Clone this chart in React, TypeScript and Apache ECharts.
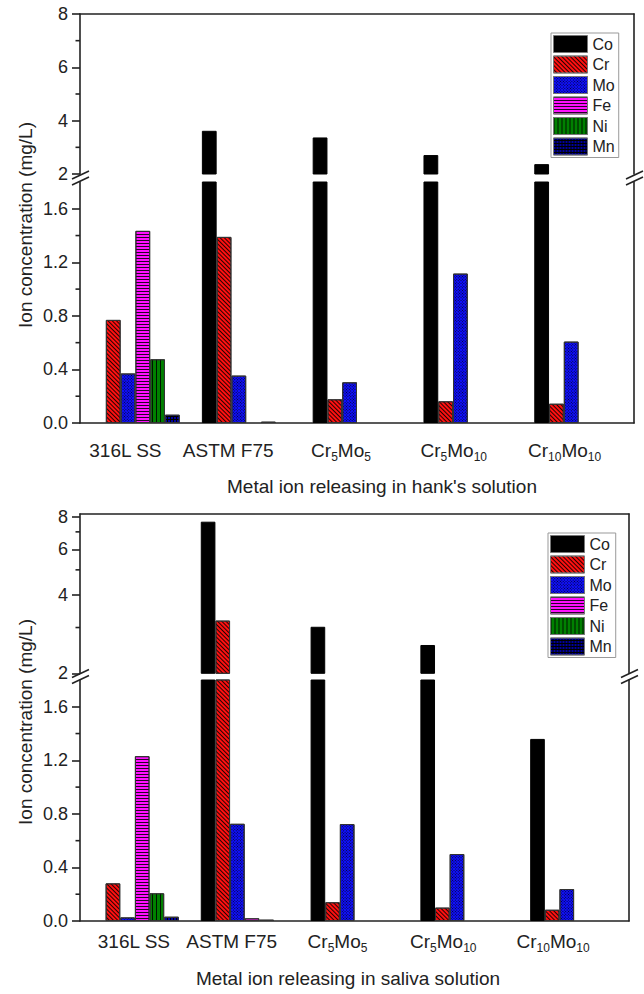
import React, { useEffect, useRef } from 'react';
import * as echarts from 'echarts';

// ---------- data ----------
const categories = ['316L SS', 'ASTM F75', 'Cr5Mo5', 'Cr5Mo10', 'Cr10Mo10'];
const metals = ['Co', 'Cr', 'Mo', 'Fe', 'Ni', 'Mn'];

// Metal ion release in Hank's solution (mg/L)
const hankCo = [0, 3.62, 3.37, 2.71, 2.37];
const hankCr = [0.77, 1.39, 0.177, 0.162, 0.144];
const hankMo = [0.37, 0.354, 0.304, 1.116, 0.608];
const hankFe = [1.435, 0, 0, 0, 0];
const hankNi = [0.476, 0.01, 0, 0, 0];
const hankMn = [0.062, 0, 0, 0, 0];

// Metal ion release in saliva solution (mg/L)
const salivaCo = [0, 7.66, 3.02, 2.57, 1.36];
const salivaCr = [0.281, 3.19, 0.14, 0.1, 0.084];
const salivaMo = [0.027, 0.726, 0.724, 0.5, 0.239];
const salivaFe = [1.231, 0.02, 0, 0, 0];
const salivaNi = [0.207, 0.01, 0, 0, 0];
const salivaMn = [0.032, 0, 0, 0, 0];

// axis ticks
const lowerTicks = [0, 0.4, 0.8, 1.2, 1.6];
const lowerMinor = [0.2, 0.6, 1.0, 1.4];
const hankUpperTicks = [2, 4, 6, 8];
const hankUpperMinor = [3, 5, 7];
const salivaUpperTicks = [2, 4, 6, 8];
const salivaUpperMinor = [3, 5, 7];

// ---------- style ----------
const FONT = '"Liberation Sans", Arial, Helvetica, sans-serif';
const INK = '#222';
const LINE_W = 1.6;
const topLabelShift = [-10, -18, -16, -14, -14];
const bottomLabelShift = [-1, -13, -17, -21, -21];

const metalStyles: Record<string, any> = {
  Co: { color: '#000000', borderColor: '#000000', borderWidth: 1 },
  Cr: {
    color: '#ff1010', borderColor: '#333', borderWidth: 1,
    decal: { symbol: 'rect', symbolSize: 1, color: 'rgba(0,0,0,0.85)', dashArrayX: [1, 0], dashArrayY: [1, 2], rotation: Math.PI / 4 },
  },
  Mo: {
    color: '#1010ff', borderColor: '#333', borderWidth: 1,
    decal: { symbol: 'rect', symbolSize: 1, color: 'rgba(0,0,0,0.8)', dashArrayX: [1, 1], dashArrayY: [1, 1], rotation: Math.PI / 4 },
  },
  Fe: {
    color: '#ff10ff', borderColor: '#333', borderWidth: 1,
    decal: { symbol: 'rect', symbolSize: 1, color: 'rgba(0,0,0,0.85)', dashArrayX: [1, 0], dashArrayY: [1, 2], rotation: 0 },
  },
  Ni: {
    color: '#008000', borderColor: '#333', borderWidth: 1,
    decal: { symbol: 'rect', symbolSize: 1, color: 'rgba(0,0,0,0.85)', dashArrayX: [1, 3], dashArrayY: [1, 0], rotation: 0 },
  },
  Mn: {
    color: '#000000', borderColor: '#333', borderWidth: 1,
    decal: { symbol: 'rect', symbolSize: 1, color: '#0000a0', dashArrayX: [2, 1], dashArrayY: [2, 1], rotation: 0 },
  },
};

function catLabel(shifts: number[], margin: number) {
  const rich: any = {
    n: { fontSize: 19, lineHeight: 22, verticalAlign: 'top', color: INK, fontFamily: FONT },
    s: { fontSize: 12, lineHeight: 12, padding: [16, 0, 0, 0], verticalAlign: 'bottom', color: INK, fontFamily: FONT },
  };
  shifts.forEach((o, i) => {
    rich['g' + i] = { width: Math.abs(o) * 2, fontSize: 19, lineHeight: 22, verticalAlign: 'top' };
  });
  return {
    show: true,
    interval: 0,
    margin,
    rich,
    formatter: (value: string, index: number) => {
      const m = /^Cr(\d+)Mo(\d+)$/.exec(value);
      const body = m ? `{n|Cr}{s|${m[1]}}{n|Mo}{s|${m[2]}}` : `{n|${value}}`;
      return body + (shifts[index] ? `{g${index}| }` : '');
    },
  };
}

const axisLine = { show: true, onZero: false, lineStyle: { color: INK, width: LINE_W } };
const tickLabel = { color: INK, fontSize: 18, fontFamily: FONT, margin: 12 };

function buildOption() {
  const L = (v: number) => Math.log10(v);
  const grids = [
    { left: 80, top: 14, width: 554, height: 160 },
    { left: 80, top: 182, width: 554, height: 241 },
    { left: 80, top: 514, width: 549, height: 159.3 },
    { left: 80, top: 680, width: 549, height: 241 },
  ];

  const xAxis: any[] = [
    { type: 'category', gridIndex: 0, data: categories, position: 'top', axisLine, axisTick: { show: false }, axisLabel: { show: false } },
    { type: 'category', gridIndex: 1, data: categories, position: 'bottom', axisLine, axisTick: { show: false }, axisLabel: catLabel(topLabelShift, 18) },
    { type: 'category', gridIndex: 2, data: categories, position: 'top', axisLine, axisTick: { show: false }, axisLabel: { show: false } },
    { type: 'category', gridIndex: 3, data: categories, position: 'bottom', axisLine, axisTick: { show: false }, axisLabel: catLabel(bottomLabelShift, 11) },
  ];

  const rightAxis = (gridIndex: number, min: number, max: number) => ({
    type: 'value', gridIndex, min, max, position: 'right', axisLine,
    axisTick: { show: false }, axisLabel: { show: false }, splitLine: { show: false },
  });
  const mainAxis = (gridIndex: number, min: number, max: number, ticks: number[], fmt: (v: number) => string) => ({
    type: 'value', gridIndex, min, max, position: 'left', axisLine,
    axisTick: { show: true, length: 8, customValues: ticks, lineStyle: { color: INK, width: LINE_W } },
    axisLabel: { ...tickLabel, customValues: ticks, formatter: fmt },
    splitLine: { show: false },
  });

  const yAxis: any[] = [
    mainAxis(0, 2, 8, hankUpperTicks, (v) => String(v)),
    rightAxis(0, 2, 8),
    mainAxis(1, 0, 1.8, lowerTicks, (v) => v.toFixed(1)),
    rightAxis(1, 0, 1.8),
    mainAxis(2, L(2), L(8.2), salivaUpperTicks.map(L), (v) => String(Math.round(Math.pow(10, v)))),
    rightAxis(2, L(2), L(8.2)),
    mainAxis(3, 0, 1.8, lowerTicks, (v) => v.toFixed(1)),
    rightAxis(3, 0, 1.8),
  ];

  const hank = [hankCo, hankCr, hankMo, hankFe, hankNi, hankMn];
  const saliva = [salivaCo, salivaCr, salivaMo, salivaFe, salivaNi, salivaMn];
  const series: any[] = [];
  const common = { type: 'bar', barGap: '0%', barCategoryGap: '20%', clip: true, silent: true };
  const pos = (v: number) => (v > 0 ? v : null);
  metals.forEach((m, i) => {
    const itemStyle = metalStyles[m];
    series.push({ ...common, name: m, xAxisIndex: 0, yAxisIndex: 0, itemStyle, data: hank[i].map(v => (v >= 2 ? v : null)) });
    series.push({ ...common, name: m, xAxisIndex: 1, yAxisIndex: 2, itemStyle, data: hank[i].map(pos) });
    series.push({ ...common, name: m, xAxisIndex: 2, yAxisIndex: 4, itemStyle, data: saliva[i].map(v => (v >= 2 ? L(v) : null)) });
    series.push({ ...common, name: m, xAxisIndex: 3, yAxisIndex: 6, itemStyle, data: saliva[i].map(pos) });
  });

  // minor ticks on the left axes, positioned through each axis' own scale
  const minorTicks = (xAxisIndex: number, yAxisIndex: number, values: number[]) => ({
    type: 'custom', name: '_minor', xAxisIndex, yAxisIndex, silent: true, clip: false,
    encode: { x: 0, y: 1 },
    data: values.map(v => [0, v]),
    renderItem: (params: any, api: any) => {
      const y = api.coord([0, api.value(1)])[1];
      const x0 = params.coordSys.x;
      return { type: 'line', shape: { x1: x0 - 4.5, y1: y, x2: x0, y2: y }, style: { stroke: INK, lineWidth: LINE_W } };
    },
  });
  series.push(minorTicks(0, 0, hankUpperMinor));
  series.push(minorTicks(1, 2, lowerMinor));
  series.push(minorTicks(2, 4, salivaUpperMinor.map(L)));
  series.push(minorTicks(3, 6, lowerMinor));

  const legendBase = {
    data: metals, orient: 'vertical', icon: 'rect', itemWidth: 34, itemHeight: 17, itemGap: 2.5,
    padding: [2, 4, 2, 2], borderColor: '#999', borderWidth: 1, backgroundColor: '#fff',
    selectedMode: false,
    itemStyle: { borderColor: '#777', borderWidth: 1 },
    textStyle: { color: INK, fontSize: 16, fontFamily: FONT },
  };

  const brk = (x: number, y: number) => [
    { type: 'line', shape: { x1: x - 8, y1: y + 2.5, x2: x + 9, y2: y - 5.5 }, style: { stroke: INK, lineWidth: LINE_W } },
    { type: 'line', shape: { x1: x - 8, y1: y + 8.5, x2: x + 9, y2: y + 0.5 }, style: { stroke: INK, lineWidth: LINE_W } },
  ];

  const titleStyle = { fill: INK, fontSize: 19, fontFamily: FONT, align: 'center', verticalAlign: 'middle' };

  return {
    animation: false,
    backgroundColor: '#fff',
    textStyle: { fontFamily: FONT },
    grid: grids,
    xAxis,
    yAxis,
    series,
    legend: [
      { ...legendBase, left: 551, top: 33 },
      { ...legendBase, left: 548, top: 533 },
    ],
    graphic: [
      ...brk(80, 176.5),
      ...brk(634, 176.5),
      ...brk(80, 675),
      ...brk(629, 675),
      { type: 'text', x: 25, y: 225, rotation: Math.PI / 2, style: { ...titleStyle, text: 'Ion concentration (mg/L)' } },
      { type: 'text', x: 25, y: 722, rotation: Math.PI / 2, style: { ...titleStyle, text: 'Ion concentration (mg/L)' } },
      { type: 'text', x: 382, y: 486, style: { ...titleStyle, text: "Metal ion releasing in hank's solution" } },
      { type: 'text', x: 348, y: 978, style: { ...titleStyle, text: 'Metal ion releasing in saliva solution' } },
    ],
  };
}

export default function App() {
  const ref = useRef<HTMLDivElement>(null);
  useEffect(() => {
    const el = ref.current;
    if (!el) return;
    const chart = echarts.init(el, undefined, { renderer: 'svg', width: 644, height: 994 });
    chart.setOption(buildOption() as any);
    return () => chart.dispose();
  }, []);
  return (
    <div
      ref={ref}
      style={{ position: 'absolute', left: 0, top: 0, width: 644, height: 994, background: '#fff' }}
    />
  );
}
